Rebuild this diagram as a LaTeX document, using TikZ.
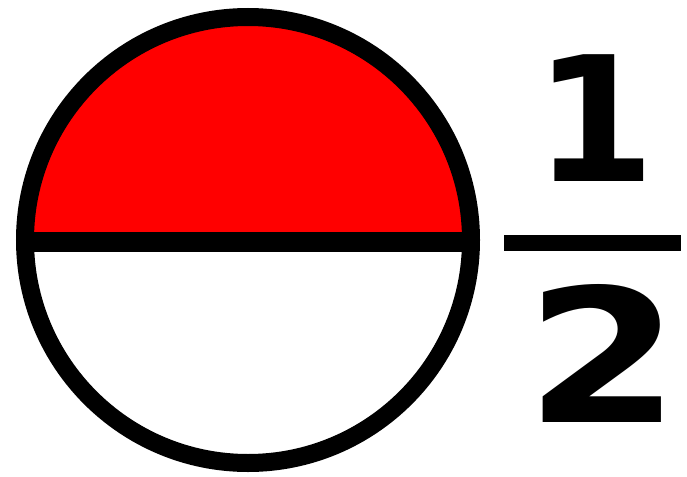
\documentclass[tikz,border=0pt]{standalone}
\usepackage{fontspec}
\newfontfamily\digitfont{DejaVu Sans}
\usepackage{tikz}

\begin{document}
\begin{tikzpicture}[
  x=1pt,y=-1pt,
  digit/.style={inner sep=0pt,anchor=south,font=\digitfont\bfseries\fontsize{174}{174}\selectfont},
  rim/.style={line width=18pt,black},
  bar/.style={line width=16pt,black}
]
\useasboundingbox (0,0) rectangle (687,476);
% circle split in two halves
\coordinate (c) at (248,240);
\fill[red] (25,240) arc[start angle=180,end angle=360,radius=223] -- cycle;
\fill[white] (25,240) arc[start angle=180,end angle=0,radius=-223] -- cycle;
\coordinate (l) at (25,242);
\coordinate (r) at (471,242);
\draw[line width=20pt] (l) -- (r);
\draw[rim] (c) circle[radius=223];
% the fraction
\node[digit] (one) at (595,182) {1};
\node[digit,font=\digitfont\bfseries\fontsize{186}{186}\selectfont,xscale=1.2] (two) at (603,423) {2};
\coordinate (barl) at (504,242.5);
\coordinate (barr) at (681,242.5);
\draw[bar] (barl) -- (barr);
\end{tikzpicture}
\end{document}
